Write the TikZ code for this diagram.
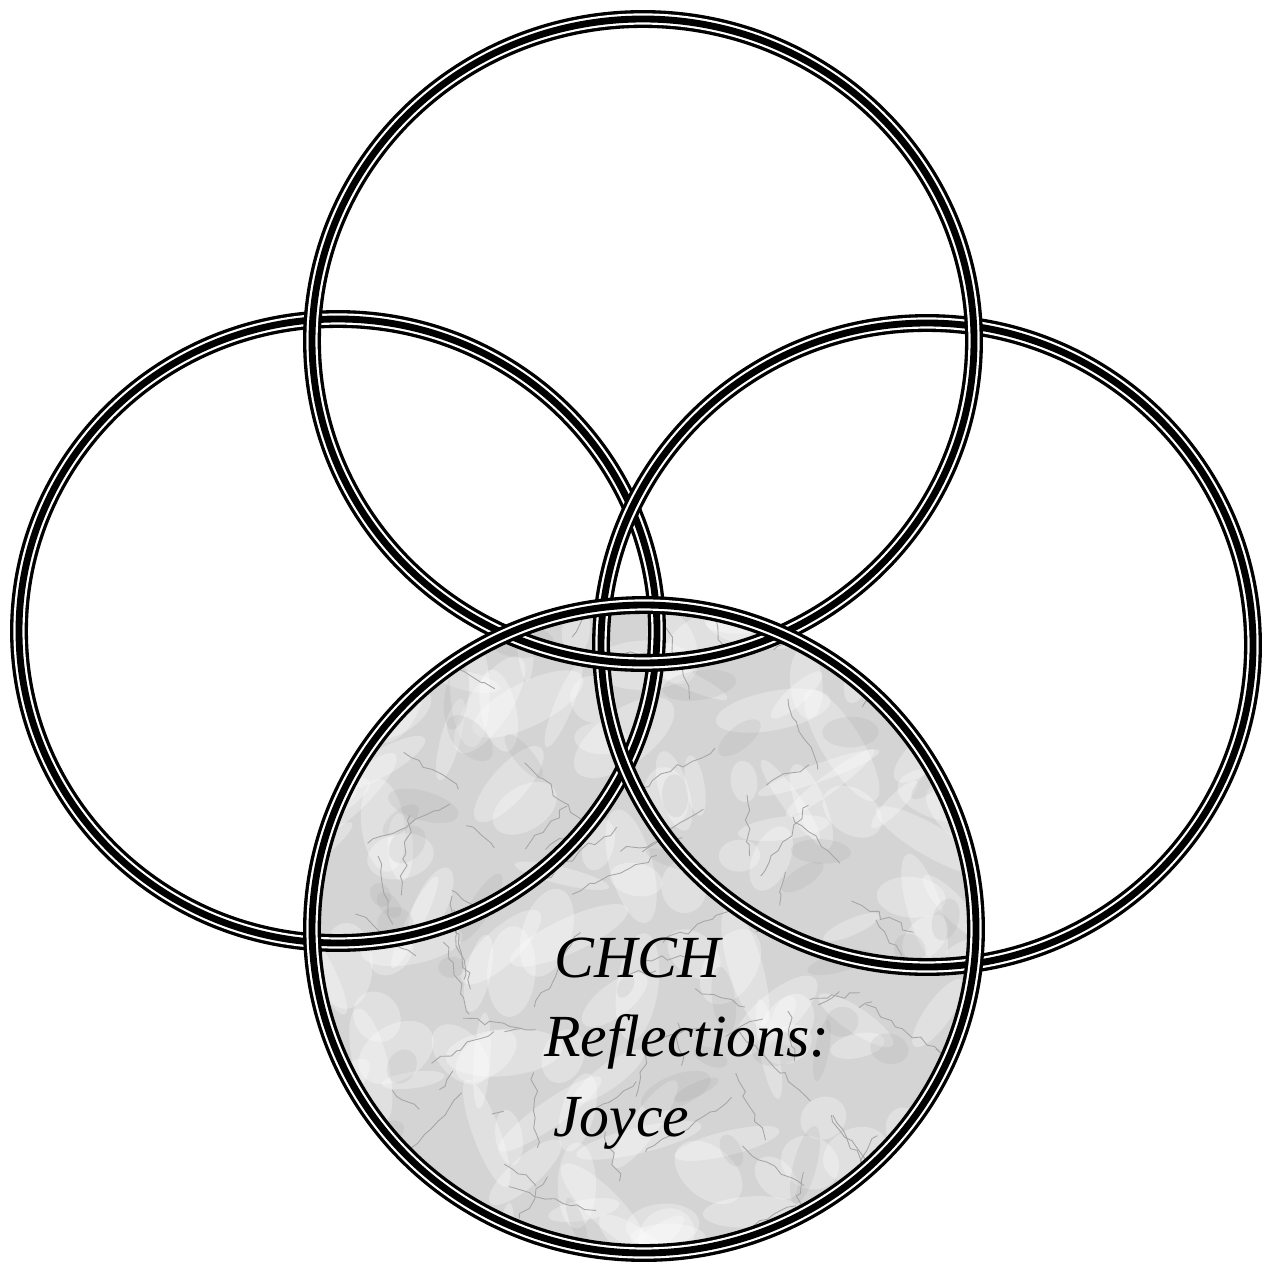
\documentclass[tikz,border=0pt]{standalone}
\usepackage{fontspec}
\setmainfont{Liberation Serif}
\usetikzlibrary{decorations.pathmorphing}

\begin{document}
\begin{tikzpicture}[
    x=0.02cm, y=-0.02cm,
    ring/.style={draw=white, line width=6.4pt, preaction={draw=black, line width=10.2pt}, postaction={draw=black, line width=3.9pt}},
    marble/.style={fill=black!17},
    blob/.style={fill=white, opacity=0.3},
    smudge/.style={fill=black!45, opacity=0.12},
    vein/.style={draw=black!35, line width=0.5pt, decorate, decoration={random steps, segment length=5pt, amplitude=2pt}},
    caption/.style={font=\itshape\fontsize{34}{45}\selectfont, align=left, inner sep=0pt, anchor=north west}
]
\useasboundingbox (0,0) rectangle (1263,1266);
\pgfmathsetseed{11}

% marble disc
\begin{scope}
  \clip (644,929) ellipse [x radius=332, y radius=324];
  \fill[marble] (300,590) rectangle (990,1266);
  \foreach \i in {1,...,140}
    \fill[blob, shift={({644+rand*340},{929+rand*330})}, rotate={rnd*180}] (0,0) ellipse [x radius={20+rnd*45}, y radius={8+rnd*20}];
  \foreach \i in {1,...,45}
    \fill[smudge, shift={({644+rand*330},{929+rand*320})}, rotate={rnd*180}] (0,0) ellipse [x radius={10+rnd*30}, y radius={5+rnd*12}];
  \foreach \i in {1,...,90}
    \draw[vein] ({644+rand*330},{929+rand*320}) -- ++({rand*90},{rand*90});
\end{scope}

% rings
\draw[ring] (338,631) ellipse [x radius=319, y radius=312];
\draw[ring] (927,645) ellipse [x radius=326, y radius=322];
\draw[ring] (643,341) ellipse [x radius=331, y radius=322];
\draw[ring] (644,929) ellipse [x radius=332, y radius=324];

\node[caption] (title) at (544,938) {\hspace*{6pt}CHCH\\Reflections:\\\hspace*{5pt}Joyce};

\end{tikzpicture}
\end{document}
